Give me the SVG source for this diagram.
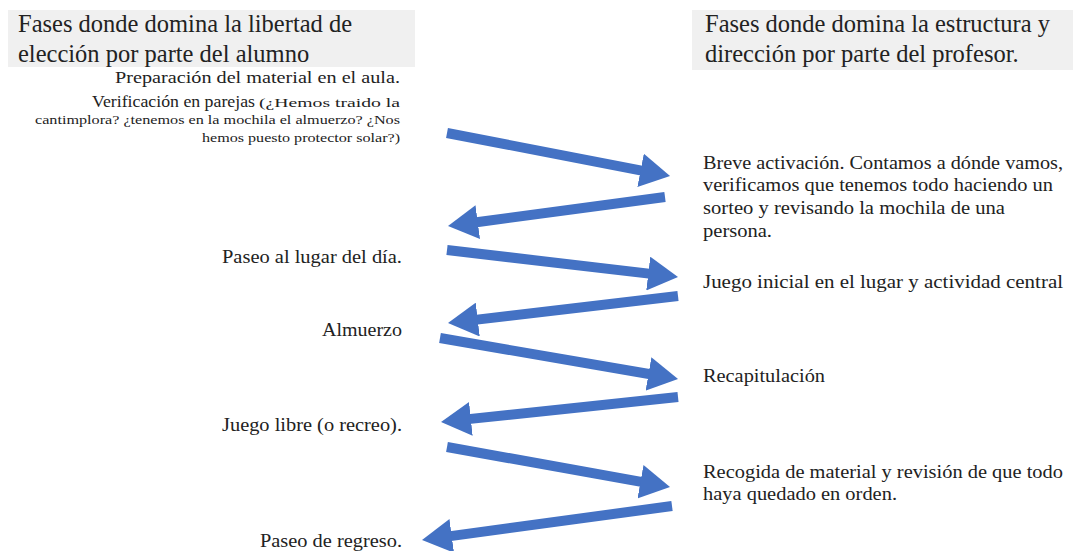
<svg xmlns="http://www.w3.org/2000/svg" width="1073" height="551" viewBox="0 0 1073 551" font-family="'Liberation Serif', 'Times New Roman', serif">
<style>
text{fill:#222}
.h{font-size:24.5px}
.b{font-size:19px}
.s{font-size:17px}
.t{font-size:12px}
.hdr{fill:#f0f0f0}
.arr{stroke:#4472C4;stroke-width:10;fill:none;marker-end:url(#head)}
</style>
<defs>
<marker id="head" markerUnits="userSpaceOnUse" markerWidth="30" markerHeight="34" viewBox="0 0 30 34" refX="5" refY="17" orient="auto">
<path d="M0,0 L30,17 L0,34 z" fill="#4472C4"/>
</marker>
</defs>
<rect width="1073" height="551" fill="#ffffff"/>
<g id="header-left">
<rect class="hdr" x="8" y="10" width="407" height="57"/>
<text class="h" x="18" y="32">Fases donde domina la libertad de</text>
<text class="h" x="18" y="62">elección por parte del alumno</text>
</g>
<g id="header-right">
<rect class="hdr" x="692" y="10" width="381" height="60"/>
<text class="h" x="705" y="32">Fases donde domina la estructura y</text>
<text class="h" x="705" y="62">dirección por parte del profesor.</text>
</g>
<g id="n-preparacion">
<text class="s" x="115" y="83" textLength="285" lengthAdjust="spacingAndGlyphs">Preparación del material en el aula.</text>
</g>
<g id="n-verificacion">
<text class="s" x="92" y="107" textLength="163" lengthAdjust="spacingAndGlyphs">Verificación en parejas</text>
<text class="t" x="259" y="107" textLength="141" lengthAdjust="spacingAndGlyphs">(¿Hemos traido la</text>
<text class="t" x="35" y="124" textLength="365" lengthAdjust="spacingAndGlyphs">cantimplora? ¿tenemos en la mochila el almuerzo? ¿Nos</text>
<text class="t" x="202" y="142" textLength="198" lengthAdjust="spacingAndGlyphs">hemos puesto protector solar?)</text>
</g>
<g id="n-breve">
<text class="b" x="703" y="169" textLength="360" lengthAdjust="spacingAndGlyphs">Breve activación. Contamos a dónde vamos,</text>
<text class="b" x="703" y="191" textLength="350" lengthAdjust="spacingAndGlyphs">verificamos que tenemos todo haciendo un</text>
<text class="b" x="703" y="214" textLength="302" lengthAdjust="spacingAndGlyphs">sorteo y revisando la mochila de una</text>
<text class="b" x="703" y="237" textLength="69" lengthAdjust="spacingAndGlyphs">persona.</text>
</g>
<g id="n-paseo-lugar">
<text class="b" x="222" y="263" textLength="180" lengthAdjust="spacingAndGlyphs">Paseo al lugar del día.</text>
</g>
<g id="n-juego-inicial">
<text class="b" x="703" y="288" textLength="360" lengthAdjust="spacingAndGlyphs">Juego inicial en el lugar y actividad central</text>
</g>
<g id="n-almuerzo">
<text class="b" x="322" y="336" textLength="80" lengthAdjust="spacingAndGlyphs">Almuerzo</text>
</g>
<g id="n-recapitulacion">
<text class="b" x="703" y="382" textLength="122" lengthAdjust="spacingAndGlyphs">Recapitulación</text>
</g>
<g id="n-juego-libre">
<text class="b" x="222" y="431" textLength="180" lengthAdjust="spacingAndGlyphs">Juego libre (o recreo).</text>
</g>
<g id="n-recogida">
<text class="b" x="703" y="478" textLength="360" lengthAdjust="spacingAndGlyphs">Recogida de material y revisión de que todo</text>
<text class="b" x="703" y="500" textLength="194" lengthAdjust="spacingAndGlyphs">haya quedado en orden.</text>
</g>
<g id="n-paseo-regreso">
<text class="b" x="260" y="547" textLength="142" lengthAdjust="spacingAndGlyphs">Paseo de regreso.</text>
</g>
<g id="connectors">
<line class="arr" x1="447" y1="133" x2="645.5" y2="171.3"/>
<line class="arr" x1="665" y1="197" x2="472.8" y2="222.7"/>
<line class="arr" x1="447" y1="250" x2="653.2" y2="274.1"/>
<line class="arr" x1="678" y1="296" x2="472.8" y2="320.1"/>
<line class="arr" x1="440" y1="338" x2="653.4" y2="374.8"/>
<line class="arr" x1="678" y1="397" x2="465.9" y2="419.4"/>
<line class="arr" x1="447" y1="447" x2="645.4" y2="482.6"/>
<line class="arr" x1="672" y1="506" x2="446.8" y2="536.6"/>
</g>
</svg>
